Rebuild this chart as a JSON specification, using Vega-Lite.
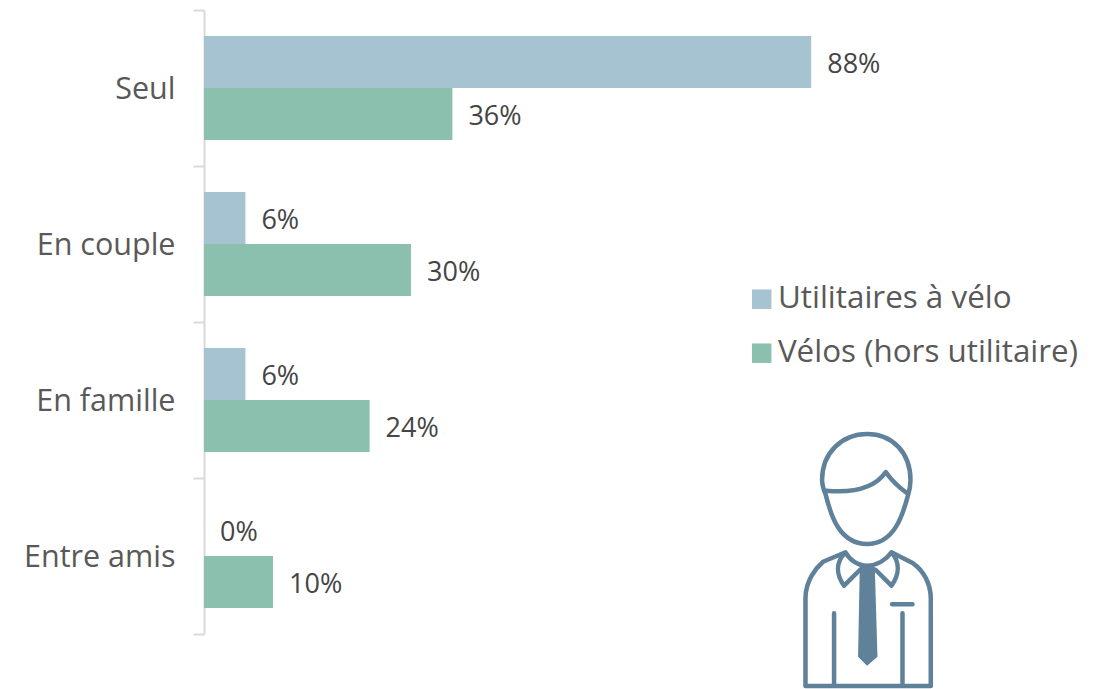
{
"$schema":"https://vega.github.io/schema/vega-lite/v6.json",
"width":690,"height":624,
"autosize":{"type":"none"},
"padding":{"left":204,"top":10,"right":203,"bottom":55},
"background":"white",
"config":{"view":{"stroke":null},"font":"Open Sans"},
"data":{"values":[
{"groupe":"Seul","type":"Utilitaires à vélo","part":88,"label":"88%"},
{"groupe":"Seul","type":"Vélos (hors utilitaire)","part":36,"label":"36%"},
{"groupe":"En couple","type":"Utilitaires à vélo","part":6,"label":"6%"},
{"groupe":"En couple","type":"Vélos (hors utilitaire)","part":30,"label":"30%"},
{"groupe":"En famille","type":"Utilitaires à vélo","part":6,"label":"6%"},
{"groupe":"En famille","type":"Vélos (hors utilitaire)","part":24,"label":"24%"},
{"groupe":"Entre amis","type":"Utilitaires à vélo","part":0,"label":"0%"},
{"groupe":"Entre amis","type":"Vélos (hors utilitaire)","part":10,"label":"10%"}
]},
"encoding":{
"y":{"field":"groupe","type":"nominal","sort":["Seul","En couple","En famille","Entre amis"],
"scale":{"domain":["Seul","En couple","En famille","Entre amis"],"paddingInner":0,"paddingOuter":0},
"axis":{"title":null,"tickBand":"extent","tickSize":11,"tickColor":"#d9d9d9","tickWidth":2,"domainColor":"#d9d9d9","domainWidth":2,"labelFontSize":30.5,"labelColor":"#595959","labelPadding":18,"labelFont":"Open Sans","labelOffset":1,"grid":false}}
},
"layer":[
{"mark":{"type":"bar","clip":false},
"encoding":{
"x":{"field":"part","type":"quantitative","scale":{"domain":[0,100],"nice":false},"axis":null},
"yOffset":{"field":"type","type":"nominal","scale":{"domain":["Utilitaires à vélo","Vélos (hors utilitaire)"],"paddingInner":0,"paddingOuter":0.5}},
"color":{"field":"type","type":"nominal","scale":{"domain":["Utilitaires à vélo","Vélos (hors utilitaire)"],"range":["#a5c3d0","#8cc0ae"]},
"legend":{"title":null,"orient":"none","legendX":542,"legendY":273.5,"padding":0,"symbolType":"square","symbolSize":380,"symbolStrokeWidth":0,"symbolOpacity":1,"labelFontSize":31.4,"labelFont":"Open Sans","labelColor":"#595959","labelOffset":0.5,"rowPadding":21,"labelLimit":400}}
}},
{"mark":{"type":"text","align":"left","baseline":"middle","dx":16,"dy":2.5,"fontSize":27,"color":"#454545","font":"Open Sans"},
"encoding":{
"x":{"field":"part","type":"quantitative"},
"yOffset":{"field":"type","type":"nominal"},
"text":{"field":"label","type":"nominal"}
}},
{"data":{"values":[{"icone":"personne"}]},
"mark":{"type":"point","filled":false,"size":4,"stroke":"#5f8199","strokeWidth":4.5,"opacity":1,"strokeCap":"round","strokeJoin":"round",
"shape":"M-42 -61C-44 -66 -45.7 -70 -45.7 -76C-45.7 -103 -26 -122 -0.7 -122C25 -122 42.7 -103 42.7 -76C42.7 -70 42 -66 40.3 -61C36 -45 28 -12 -0.7 -12C-30 -12 -38 -45 -42 -61ZM-41.3 -65.3C-15 -63 7 -68 18 -84C24 -75 32 -68 40.3 -62M-62.3 130L-62.3 42.3C-62.3 25 -52 12 -44.7 5.7L-22.3 -3.7C-18 4 -10 9.7 -0.7 9.7C9 9.7 18 4 23.7 -3.7L45.3 7.3C55 14 63 27 63 42.3L63 130ZM-22.3 -3.7C-32 6 -32 18 -23.7 29.7L-8 14M23.7 -3.7C32 6 32 18 23.7 29.7L8 14M24.3 48.3L44.7 48.3M-33.7 57.3L-33.7 130M34.7 57.3L34.7 130"},
"encoding":{"x":{"datum":96.2},"y":{"datum":"Entre amis"}}},
{"data":{"values":[{"icone":"cravate"}]},
"mark":{"type":"point","filled":true,"size":4,"fill":"#5f8199","opacity":1,"stroke":null,
"shape":"M-8 10.7L7 10.7L9.7 100.7L-0.7 109.7L-9.7 100.7Z"},
"encoding":{"x":{"datum":96.2},"y":{"datum":"Entre amis"}}}
]
}
